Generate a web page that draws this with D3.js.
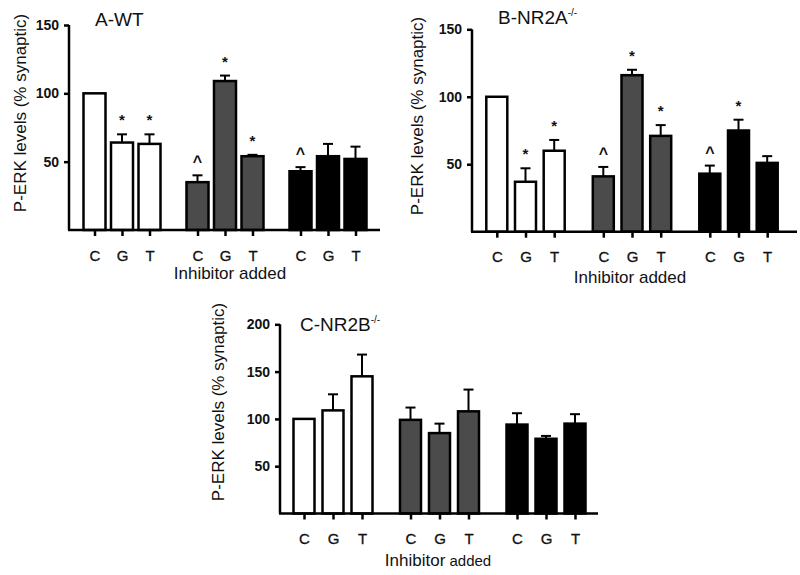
<!DOCTYPE html>
<html>
<head>
<meta charset="utf-8">
<script src="https://cdn.jsdelivr.net/npm/d3@7"></script>
<style>
body { margin: 0; background: #fff; }
text { font-family: "Liberation Sans", Arial, sans-serif; fill: #111; }
</style>
</head>
<body>
<div id="chart"></div>
<script>
// Inhibitor categories and the three bar groups (white, grey, black)
const inhibitors = ["C", "G", "T"];
const groupFills = ["#ffffff", "#4b4b4b", "#000000"];

// A - WT : mean, SEM and significance marks, in group order
const wtMean = [100, 64, 63, 35, 109, 54, 43, 54, 52];
const wtErr = [0, 6, 7, 5, 4, 1, 3, 9, 9];
const wtSig = ["", "*", "*", "^", "*", "*", "^", "", ""];

// B - NR2A-/-
const nr2aMean = [100, 37, 60, 41, 116, 71, 43, 75, 51];
const nr2aErr = [0, 10, 8, 7, 4, 8, 6, 8, 5];
const nr2aSig = ["", "*", "*", "^", "*", "*", "^", "*", ""];

// C - NR2B-/-
const nr2bMean = [100, 109, 145, 99, 85, 108, 94, 79, 95];
const nr2bErr = [0, 17, 23, 13, 10, 23, 12, 3, 10];
const nr2bSig = ["", "", "", "", "", "", "", "", ""];

// y tick labels
const ticksAB = [50, 100, 150];
const ticksC = [50, 100, 150, 200];

let svg = d3.select("#chart")
    .append("svg")
    .attr("width", 800)
    .attr("height", 575);

// panel layout (positions only)
let panels = [
    { title: "A-WT", sup: "", mean: wtMean, err: wtErr, sig: wtSig, ticks: ticksAB, max: 150,
      axisX: 69, axisEnd: 380, y0: 230, yTop: 25, g0: 122, gStep: 103, inStep: 27.5, barW: 22,
      titleX: 95, titleY: 26, labelX: 20, labelY: 113, xTitleX: 230, xTitleY: 279, split: false },
    { title: "B-NR2A", sup: "-/-", mean: nr2aMean, err: nr2aErr, sig: nr2aSig, ticks: ticksAB, max: 150,
      axisX: 472, axisEnd: 797, y0: 231.7, yTop: 29.3, g0: 525.5, gStep: 106.5, inStep: 28.7, barW: 21,
      titleX: 498, titleY: 24, labelX: 417, labelY: 116, xTitleX: 630, xTitleY: 283, split: false },
    { title: "C-NR2B", sup: "-/-", mean: nr2bMean, err: nr2bErr, sig: nr2bSig, ticks: ticksC, max: 200,
      axisX: 280, axisEnd: 598, y0: 513.5, yTop: 324.3, g0: 333, gStep: 106.5, inStep: 29, barW: 21,
      titleX: 300, titleY: 331, labelX: 218, labelY: 402, xTitleX: 438, xTitleY: 566, split: true }
];

panels.forEach(function (p) {
    let g = svg.append("g");

    let y = d3.scaleLinear().domain([0, p.max]).range([p.y0, p.yTop]);

    // outer scale for the 3 groups, inner point scale for C/G/T
    let outer = d3.scaleBand()
        .domain([0, 1, 2])
        .range([p.g0 - p.gStep / 2, p.g0 + 2.5 * p.gStep]);
    let inner = d3.scalePoint()
        .domain(inhibitors)
        .range([-p.inStep, p.inStep]);

    let rows = p.mean.map(function (m, i) {
        let grp = Math.floor(i / 3);
        let inh = inhibitors[i % 3];
        return {
            grp: grp, inh: inh, mean: m, err: p.err[i], sig: p.sig[i],
            cx: outer(grp) + outer.bandwidth() / 2 + inner(inh)
        };
    });

    // bars
    g.selectAll("rect.bar")
        .data(rows)
        .enter().append("rect")
        .attr("x", d => d.cx - p.barW / 2)
        .attr("y", d => y(d.mean))
        .attr("width", p.barW)
        .attr("height", d => y(0) - y(d.mean))
        .attr("fill", d => groupFills[d.grp])
        .attr("stroke", "#000")
        .attr("stroke-width", 2.5);

    // error bars (upper only)
    let eb = g.selectAll("g.err")
        .data(rows.filter(d => d.err > 0))
        .enter().append("g");
    eb.append("line")
        .attr("x1", d => d.cx).attr("x2", d => d.cx)
        .attr("y1", d => y(d.mean)).attr("y2", d => y(d.mean + d.err))
        .attr("stroke", "#000").attr("stroke-width", 2);
    eb.append("line")
        .attr("x1", d => d.cx - 5).attr("x2", d => d.cx + 5)
        .attr("y1", d => y(d.mean + d.err)).attr("y2", d => y(d.mean + d.err))
        .attr("stroke", "#000").attr("stroke-width", 2);

    // significance marks
    g.selectAll("text.sig")
        .data(rows.filter(d => d.sig !== ""))
        .enter().append("text")
        .attr("x", d => d.cx)
        .attr("y", d => y(d.mean + d.err) - (d.sig === "*" ? 9 : 8))
        .attr("text-anchor", "middle")
        .style("font-size", d => d.sig === "*" ? "15px" : "16px")
        .style("font-weight", "bold")
        .text(d => d.sig);

    // y axis
    let yAxis = g.append("g")
        .attr("transform", `translate(${p.axisX},0)`)
        .call(d3.axisLeft(y).tickValues(p.ticks).tickSize(5).tickSizeOuter(0).tickPadding(5));
    yAxis.select(".domain").attr("stroke-width", 2.5).attr("d", `M0,${p.y0}V${y(p.max)}`);
    yAxis.selectAll(".tick line").attr("stroke-width", 2.5);
    yAxis.selectAll(".tick text")
        .style("font-size", "14px")
        .style("font-weight", "bold")
        .style("font-family", "'Liberation Sans', Arial, sans-serif")
        .attr("fill", "#111");

    // x axis line
    g.append("line")
        .attr("x1", p.axisX - 1).attr("x2", p.axisEnd)
        .attr("y1", p.y0).attr("y2", p.y0)
        .attr("stroke", "#000").attr("stroke-width", 2.5);

    // C/G/T ticks for each group
    [0, 1, 2].forEach(function (grp) {
        let ax = g.append("g")
            .attr("transform", `translate(${outer(grp) + outer.bandwidth() / 2},${p.y0})`)
            .call(d3.axisBottom(inner).tickSize(6).tickPadding(14));
        ax.select(".domain").remove();
        ax.selectAll(".tick line").attr("stroke-width", 2.5);
        ax.selectAll(".tick text")
            .style("font-size", "15px")
            .style("font-family", "'Liberation Sans', Arial, sans-serif")
            .attr("fill", "#111")
            .attr("stroke", "#111")
            .attr("stroke-width", 0.3);
    });

    // x title
    let xt = g.append("text")
        .attr("x", p.xTitleX)
        .attr("y", p.xTitleY)
        .attr("text-anchor", "middle")
        .style("font-size", "17px");
    if (p.split) {
        xt.append("tspan").text("Inhibitor");
        xt.append("tspan").style("font-size", "15px").text(" added");
    } else {
        xt.text("Inhibitor added");
    }

    // y title
    g.append("text")
        .attr("transform", `translate(${p.labelX},${p.labelY}) rotate(-90)`)
        .attr("text-anchor", "middle")
        .attr("dy", "0.35em")
        .style("font-size", "17px")
        .text("P-ERK levels (% synaptic)");

    // panel title
    let t = g.append("text")
        .attr("x", p.titleX)
        .attr("y", p.titleY)
        .style("font-size", "19px")
        .text(p.title);
    if (p.sup) {
        t.append("tspan")
            .attr("dy", -8)
            .style("font-size", "10px")
            .text(p.sup);
    }
});
</script>
</body>
</html>
